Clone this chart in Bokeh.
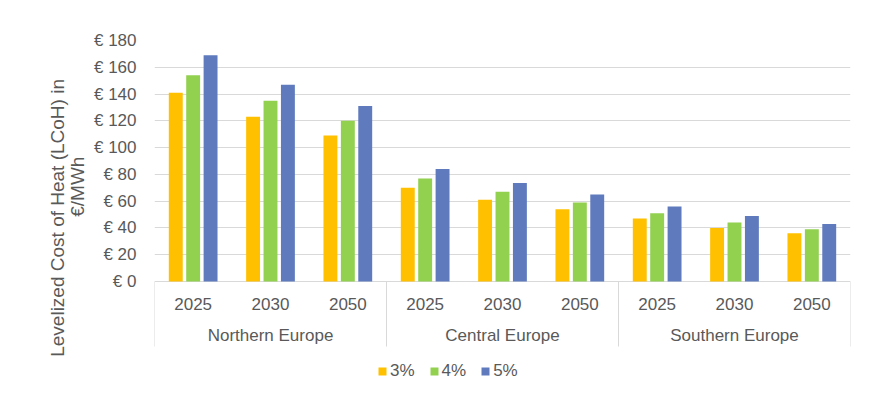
import math
from bokeh.plotting import figure
from bokeh.models import (FactorRange, Range1d, FixedTicker, CustomJSTickFormatter,
                          ColumnDataSource, Legend, LegendItem)
from bokeh.transform import dodge
from bokeh.layouts import row
from bokeh.embed import file_html
from bokeh.resources import INLINE
from bokeh.core.properties import value

# ---------------- data ----------------
regions = ["Northern Europe", "Central Europe", "Southern Europe"]
years = ["2025", "2030", "2050"]
rates = ["3%", "4%", "5%"]
lcoh_3 = [141, 123, 109, 70, 61, 54, 47, 40, 36]
lcoh_4 = [154, 135, 120, 77, 67, 59, 51, 44, 39]
lcoh_5 = [169, 147, 131, 84, 73.5, 65, 56, 49, 43]
y_ticks = [0, 20, 40, 60, 80, 100, 120, 140, 160, 180]
y_title = ["Levelized Cost of Heat (LCoH) in", "\u20ac/MWh"]
colors = ["#FFC000", "#92D050", "#5F7BBE"]

FONT = "Liberation Sans"
TXT = "#595959"
GRID = "#D9D9D9"
FS = "17px"
FS_TITLE = "19px"

H = 387
TITLE_W = 90
PX = 180 / 241.0          # data units per pixel in the value direction

factors = [(r, y) for r in regions for y in years]
x_range = FactorRange(factors=factors, factor_padding=0, group_padding=0, range_padding=0)

# ---------------- value-axis title (own narrow panel, y measured from page top) ----------------
t = figure(width=TITLE_W, height=H, x_range=Range1d(0, TITLE_W), y_range=Range1d(H, 0),
           output_backend="svg", toolbar_location=None,
           x_axis_location=None, y_axis_location=None, outline_line_color=None,
           min_border_left=0, min_border_right=0, min_border_top=0, min_border_bottom=0)
t.grid.visible = False
t.text(x=[57, 77], y=[199, 164], text=y_title, angle=math.pi / 2,
       text_align="center", text_baseline="middle",
       text_font=value(FONT), text_font_size=FS_TITLE, text_color=TXT)

# ---------------- main chart ----------------
p = figure(x_range=x_range, y_range=Range1d(-104 * PX, 180), width=863 - TITLE_W, height=H,
           output_backend="svg", toolbar_location=None, x_axis_location=None,
           min_border_left=154 - TITLE_W, min_border_right=13, min_border_top=40,
           min_border_bottom=2, outline_line_color=None)

src = ColumnDataSource(dict(x=factors, r3=lcoh_3, r4=lcoh_4, r5=lcoh_5))
bars = []
for i, (col, c) in enumerate(zip(["r3", "r4", "r5"], colors)):
    bars.append(p.vbar(x=dodge("x", (i - 1) * 0.225, range=x_range), top=col, width=0.18,
                       source=src, fill_color=c, line_color=None))

p.yaxis.ticker = FixedTicker(ticks=y_ticks)
p.yaxis.formatter = CustomJSTickFormatter(code="return '\u20ac ' + tick;")
p.yaxis.axis_line_color = None
p.yaxis.major_tick_line_color = None
p.yaxis.minor_tick_line_color = None
p.yaxis.major_tick_out = 0
p.yaxis.major_tick_in = 0
p.yaxis.major_label_standoff = 18
p.yaxis.major_label_text_font = FONT
p.yaxis.major_label_text_font_size = FS
p.yaxis.major_label_text_color = TXT
p.ygrid.grid_line_color = GRID
p.ygrid.grid_line_width = 1
p.xgrid.visible = False

# two-level category axis
year_src = ColumnDataSource(dict(x=factors, y=[-22.3 * PX] * len(factors),
                                 t=[f[1] for f in factors]))
p.text(x="x", y="y", text="t", source=year_src, text_align="center",
       text_baseline="alphabetic", text_font=value(FONT), text_font_size=FS, text_color=TXT)

reg_src = ColumnDataSource(dict(x=[(r, years[1]) for r in regions],
                                y=[-54 * PX] * len(regions), t=regions))
p.text(x="x", y="y", text="t", source=reg_src, text_align="center",
       text_baseline="alphabetic", text_font=value(FONT), text_font_size=FS, text_color=TXT)

seps = [(r, years[0], -0.5) for r in regions] + [(regions[-1], years[-1], 0.5)]
sep_src = ColumnDataSource(dict(x=seps, y0=[0] * len(seps), y1=[-65 * PX] * len(seps)))
p.segment(x0="x", y0="y0", x1="x", y1="y1", source=sep_src, line_color=GRID, line_width=1)

legend = Legend(items=[LegendItem(label=r, renderers=[b]) for r, b in zip(rates, bars)],
                orientation="horizontal", location=(223, 4),
                glyph_width=10, glyph_height=10, label_standoff=3, spacing=14,
                padding=0, margin=0, border_line_color=None, background_fill_alpha=0,
                label_text_font=FONT, label_text_font_size=FS, label_text_color=TXT)
p.add_layout(legend)

layout = row(t, p, spacing=0)
open("out.html", "w").write(file_html(layout, INLINE))
